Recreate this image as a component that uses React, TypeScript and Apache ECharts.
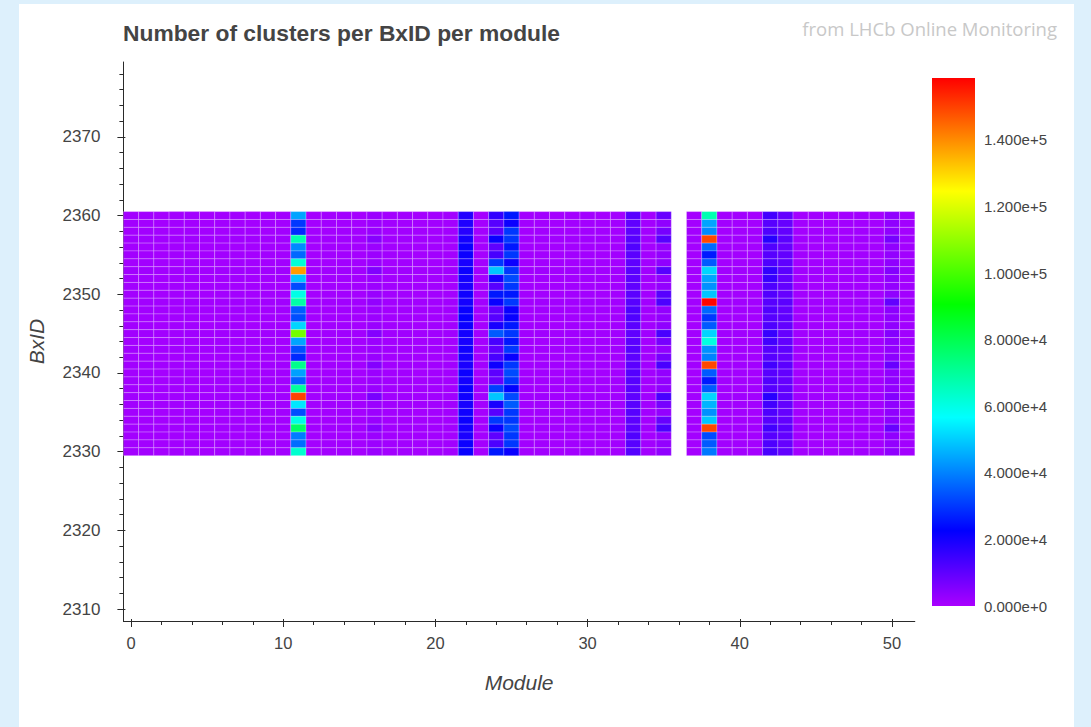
import React, { useEffect, useRef } from "react";
import * as echarts from "echarts";

// BxID rows, listed top (2360) to bottom (2330)
const bxids = [2360, 2359, 2358, 2357, 2356, 2355, 2354, 2353, 2352, 2351, 2350, 2349, 2348, 2347, 2346, 2345,
  2344, 2343, 2342, 2341, 2340, 2339, 2338, 2337, 2336, 2335, 2334, 2333, 2332, 2331, 2330];

// cluster counts, in thousands, one array per module column (top to bottom)
const quietA = [0.9, 1.0, 0.8, 1.1, 0.9, 1.0, 0.8, 1.2, 0.9, 1.0, 0.9, 1.1, 0.8, 0.9, 1.0, 1.2, 0.9, 1.0, 0.8, 1.1, 0.9, 1.0, 0.9, 1.2, 1.0, 0.9, 0.8, 1.1, 0.9, 1.0, 0.9];
const quietB = [1.1, 0.9, 1.0, 1.2, 0.8, 0.9, 1.1, 1.3, 1.0, 0.8, 0.9, 1.2, 1.0, 0.9, 1.1, 1.3, 0.8, 0.9, 1.0, 1.2, 1.1, 0.9, 0.8, 1.3, 1.0, 1.1, 0.9, 1.2, 0.8, 1.0, 1.1];
const quietC = [0.7, 0.8, 0.9, 1.0, 0.8, 0.7, 0.9, 1.1, 0.8, 0.9, 0.7, 1.0, 0.9, 0.8, 0.7, 1.1, 0.8, 0.9, 0.8, 1.0, 0.7, 0.8, 0.9, 1.1, 0.9, 0.7, 0.8, 1.0, 0.9, 0.8, 0.7];
const mod11 = [44.5, 30, 28, 67, 41, 36.5, 62, 138, 49, 32.5, 60, 68.5, 35, 33, 51, 106, 44.5, 33, 28, 72, 44, 36, 70, 150, 53.5, 33, 60, 77, 39, 37, 63];
const mod16 = [2.0, 1.8, 2.2, 4.5, 2.0, 1.9, 2.1, 5.5, 2.0, 1.8, 2.2, 3.0, 2.0, 1.9, 2.1, 5.0, 2.0, 1.8, 2.2, 5.0, 2.0, 1.9, 2.1, 6.5, 2.0, 1.8, 2.2, 4.5, 2.0, 1.9, 2.1];
const mod22 = [18, 18.5, 17.5, 20, 21.5, 21, 19.5, 21, 20, 19, 20.5, 20, 21.5, 22, 21, 20, 19.5, 20.5, 20, 19, 21, 20, 21.5, 20.5, 19.5, 20.5, 21, 20, 19, 21, 21.5];
const mod24 = [16, 11, 10.5, 21.5, 10, 13, 30, 49, 20, 11, 25.7, 21.5, 10.3, 11, 19.5, 34.6, 13, 10.3, 13, 21, 10.3, 8.8, 31, 49, 19.5, 11, 30, 21.5, 10, 12.5, 25.7];
const mod25 = [25.7, 21, 30, 30, 25.7, 30, 21, 30, 32.5, 30, 25.7, 30, 21.5, 21.5, 25.7, 30, 25.7, 30, 21.5, 30, 32.5, 30, 23, 32.5, 34.6, 30, 30, 32.5, 30, 30, 21.5];
const mod33 = [11, 9.8, 10.3, 11, 12, 10.5, 10, 10.8, 10.3, 9.8, 10.5, 11, 12.2, 12, 10.5, 10, 10.5, 11, 10.3, 10.5, 11.5, 11, 10.5, 10, 10.8, 11, 10.3, 10.5, 12, 11, 11.5];
const mod35 = [8.8, 3.5, 6.8, 11, 3, 3, 3.5, 11, 3, 3, 11, 12.5, 3, 3, 3.5, 13, 6.8, 3, 6.8, 13, 3, 3, 3.5, 13, 6.8, 3, 8.8, 12.5, 3, 3, 3.5];
const mod38 = [67, 44.5, 41, 149, 36.5, 26, 34.6, 51, 44.5, 42, 49, 158, 36.5, 30, 34.6, 51, 60.5, 42, 40, 149, 34.6, 26, 34.6, 51, 46.8, 42, 49, 149, 32.5, 34.6, 38.7];
const mod42 = [13.9, 11, 12.2, 17.4, 11.9, 11, 12.2, 16, 15.4, 12.2, 11.9, 11, 11.9, 11, 12.2, 15.4, 13.9, 11, 11, 13.9, 11, 11.9, 11, 17.4, 13.9, 12.2, 11, 13.9, 11, 12.2, 13.1];
const mod43 = [9.5, 9, 9.5, 10.5, 9, 9.5, 10, 10.5, 9.5, 9.5, 9, 10.5, 9.5, 10, 9.5, 9, 9.5, 10, 9, 10.5, 9.5, 9, 9.5, 10, 9.5, 9, 9.5, 10.5, 9.5, 9, 9.5];
const mod50 = [3.5, 3.5, 3.5, 6.8, 3.5, 3, 3.5, 5, 3.5, 3, 3.5, 9.5, 4, 3.5, 3.5, 5, 3.5, 3, 4, 8.8, 3.5, 3.5, 3, 5, 3.5, 3.5, 4, 8.8, 3.5, 3, 3.5];

// module number -> its column (module 36 has no data)
const moduleColumns: [number, number[]][] = [
  [0, quietA], [1, quietB], [2, quietC], [3, quietA], [4, quietB], [5, quietC], [6, quietA], [7, quietB],
  [8, quietC], [9, quietA], [10, quietB], [11, mod11], [12, quietC], [13, quietA], [14, quietB], [15, quietC],
  [16, mod16], [17, quietA], [18, quietB], [19, quietC], [20, quietA], [21, quietB], [22, mod22], [23, quietC],
  [24, mod24], [25, mod25], [26, quietA], [27, quietB], [28, quietC], [29, quietA], [30, quietB], [31, quietC],
  [32, quietA], [33, mod33], [34, quietB], [35, mod35], [37, quietC], [38, mod38], [39, quietA], [40, quietB],
  [41, quietC], [42, mod42], [43, mod43], [44, quietA], [45, quietB], [46, quietC], [47, quietA], [48, quietB],
  [49, quietC], [50, mod50], [51, quietA],
];
const UNIT = 1000;
const colorMax = 158600;

const xMajorTicks = [0, 10, 20, 30, 40, 50];
const yMajorTicks = [2310, 2320, 2330, 2340, 2350, 2360, 2370];
const minorStep = 2;
const xRange = [-0.5, 51.5];
const yRange = [2308.5, 2379.5];
const colorTicks = [0, 20000, 40000, 60000, 80000, 100000, 120000, 140000];

function hueHex(h: number) {
  const f = (n: number) => {
    const k = (n + h / 60) % 6;
    return Math.round(255 * (1 - Math.max(0, Math.min(k, 4 - k, 1))));
  };
  return "#" + [f(5), f(3), f(1)].map((x) => x.toString(16).padStart(2, "0")).join("");
}

export default function App() {
  const ref = useRef<HTMLDivElement>(null);
  useEffect(() => {
    document.body.style.margin = "0";
    const chart = echarts.init(ref.current!, undefined, { renderer: "svg" });

    const palette: string[] = [];
    const N = 71;
    for (let i = 0; i < N; i++) palette.push(hueHex(280 - (280 * i) / (N - 1)));
    // gradient from top (max, red) to bottom (0, purple), offsets ascending
    const stops = palette.map((_c, i) => ({ offset: i / (N - 1), color: palette[N - 1 - i] }));

    const data: number[][] = [];
    moduleColumns.forEach(([m, col]) => {
      col.forEach((v, i) => data.push([m, bxids[i], v * UNIT]));
    });

    const xCats: string[] = [];
    for (let v = xRange[0]; v <= xRange[1] + 1e-9; v += 0.5) xCats.push(String(v));
    const yCats: string[] = [];
    for (let v = yRange[0]; v <= yRange[1] + 1e-9; v += 0.5) yCats.push(String(v));

    const isMinor = (_i: number, v: string) => Number(v) % minorStep === 0;
    const isMajorX = (_i: number, v: string) => xMajorTicks.includes(Number(v));
    const isMajorY = (_i: number, v: string) => yMajorTicks.includes(Number(v));

    const G = { left: 123.4, top: 62, width: 791.4, height: 559 };
    const font = "Liberation Sans";
    const axisColor = "#2a2a2a";
    const labelColor = "#444";

    const catX = (extra: any) => ({
      type: "category", data: xCats, boundaryGap: false,
      axisLine: { show: false, lineStyle: { color: axisColor } },
      axisLabel: { show: false }, splitLine: { show: false }, ...extra,
    });
    const catY = (extra: any) => ({
      type: "category", data: yCats, boundaryGap: false,
      axisLine: { show: false, lineStyle: { color: axisColor } },
      axisLabel: { show: false }, splitLine: { show: false }, ...extra,
    });

    const option: any = {
      animation: false,
      backgroundColor: "#ddf0fc",
      graphic: [
        { type: "rect", z: -10, shape: { x: 19, y: 4, width: 1055, height: 740 }, style: { fill: "#ffffff" } },
      ],
      title: [
        {
          text: "Number of clusters per BxID per module", left: 123, top: 21, padding: 0,
          textStyle: { fontFamily: font, fontSize: 22.8, fontWeight: "bold", color: "#444" },
        },
        {
          text: "from LHCb Online Monitoring", right: 34, top: 19, padding: 0,
          textStyle: { fontFamily: "Open Sans", fontSize: 18.5, fontWeight: "normal", color: "#c8c8c8" },
        },
      ],
      grid: [
        { ...G, containLabel: false },
        { ...G, containLabel: false },
        { ...G, containLabel: false },
        { ...G, containLabel: false },
        { left: 932, top: 606 - 160000 * (528 / colorMax), width: 43, height: 160000 * (528 / colorMax), containLabel: false },
      ],
      xAxis: [
        { type: "value", gridIndex: 0, min: xRange[0], max: xRange[1], show: false },
        catX({
          gridIndex: 1, axisLine: { show: true, lineStyle: { color: axisColor, width: 1 } },
          axisTick: { show: true, interval: isMajorX, length: 6, lineStyle: { color: axisColor } },
          axisLabel: { show: true, interval: isMajorX, margin: 13, fontFamily: font, fontSize: 16.5, color: labelColor, formatter: (v: string) => String(Number(v)) },
          name: "Module", nameLocation: "middle", nameGap: 51,
          nameTextStyle: { fontFamily: font, fontSize: 21, fontStyle: "italic", color: labelColor },
        }),
        catX({ gridIndex: 2, axisTick: { show: true, interval: isMinor, length: 4, lineStyle: { color: axisColor } } }),
        catX({ gridIndex: 3, axisTick: { show: true, inside: true, interval: isMajorX, length: 2, lineStyle: { color: axisColor } } }),
        { type: "value", gridIndex: 4, min: 0, max: 1, show: false },
      ],
      yAxis: [
        { type: "value", gridIndex: 0, min: yRange[0], max: yRange[1], show: false },
        catY({
          gridIndex: 1, axisLine: { show: true, lineStyle: { color: axisColor, width: 1 } },
          axisTick: { show: true, interval: isMajorY, length: 6, lineStyle: { color: axisColor } },
          axisLabel: { show: true, interval: isMajorY, margin: 23, fontFamily: font, fontSize: 17, color: labelColor, formatter: (v: string) => String(Number(v)) },
          name: "BxID", nameLocation: "middle", nameGap: 76,
          nameTextStyle: { fontFamily: font, fontSize: 21, fontStyle: "italic", color: labelColor },
        }),
        catY({ gridIndex: 2, axisTick: { show: true, interval: isMinor, length: 4, lineStyle: { color: axisColor } } }),
        catY({ gridIndex: 3, axisTick: { show: true, inside: true, interval: isMajorY, length: 2, lineStyle: { color: axisColor } } }),
        {
          type: "value", gridIndex: 4, min: 0, max: 160000, interval: 20000, position: "right", z: 10,
          axisLine: { show: false },
          axisTick: { show: true, inside: true, length: 8, lineStyle: { color: "#ffffff", width: 1.2, opacity: 0.9 } },
          axisLabel: {
            show: true, showMaxLabel: false, margin: 9, fontFamily: font, fontSize: 15, color: labelColor,
            formatter: (v: number) => (colorTicks.includes(v) ? v.toExponential(3) : ""),
          },
          splitLine: { show: false },
        },
      ],
      visualMap: {
        type: "continuous", show: false, seriesIndex: 0, dimension: 2,
        min: 0, max: colorMax, inRange: { color: palette },
      },
      series: [
        {
          type: "custom", xAxisIndex: 0, yAxisIndex: 0, data,
          renderItem: (_p: any, api: any) => {
            const x = api.value(0);
            const y = api.value(1);
            const p0 = api.coord([x - 0.5, y + 0.5]);
            const p1 = api.coord([x + 0.5, y - 0.5]);
            return {
              type: "rect",
              shape: { x: p0[0], y: p0[1], width: p1[0] - p0[0], height: p1[1] - p0[1] },
              style: { fill: api.visual("color"), stroke: "rgba(255,255,255,0.22)", lineWidth: 1 },
            };
          },
        },
        {
          type: "custom", xAxisIndex: 4, yAxisIndex: 4, data: [[0, 0]], silent: true, z: 1,
          renderItem: (_p: any, api: any) => {
            const p0 = api.coord([0, colorMax]);
            const p1 = api.coord([1, 0]);
            return {
              type: "rect",
              shape: { x: p0[0], y: p0[1], width: p1[0] - p0[0], height: p1[1] - p0[1] },
              style: { fill: new echarts.graphic.LinearGradient(0, 0, 0, 1, stops) },
            };
          },
        },
      ],
    };
    chart.setOption(option);
    return () => chart.dispose();
  }, []);
  return <div ref={ref} style={{ width: 1091, height: 727 }} />;
}
